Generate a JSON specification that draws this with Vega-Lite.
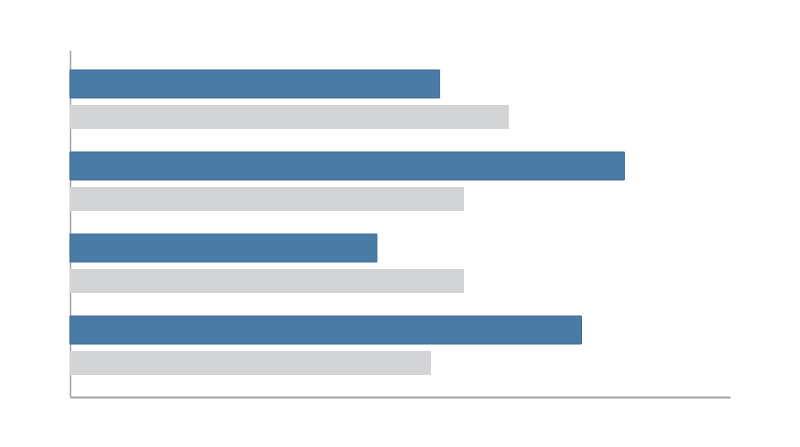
{
  "$schema": "https://vega.github.io/schema/vega-lite/v6.json",
  "width": 660,
  "height": 347,
  "autosize": "none",
  "padding": {"left": 70, "top": 50, "right": 70, "bottom": 50},
  "background": "white",
  "config": {
    "view": {"stroke": null},
    "axis": {"labels": false, "ticks": false, "grid": false, "title": null, "domainColor": "#a3a3a3", "zindex": 1}
  },
  "data": {
    "values": [
      {"group": "A", "series": "s1", "value": 56},
      {"group": "A", "series": "s2", "value": 66.5},
      {"group": "B", "series": "s1", "value": 84},
      {"group": "B", "series": "s2", "value": 59.7},
      {"group": "C", "series": "s1", "value": 46.5},
      {"group": "C", "series": "s2", "value": 59.7},
      {"group": "D", "series": "s1", "value": 77.5},
      {"group": "D", "series": "s2", "value": 54.7}
    ]
  },
  "encoding": {
    "y": {
      "field": "group",
      "type": "nominal",
      "scale": {"paddingInner": 0.195, "paddingOuter": 0.213},
      "axis": {"domainWidth": 1.5}
    },
    "yOffset": {
      "field": "series",
      "type": "nominal",
      "scale": {"domain": ["s1", "s2"], "paddingInner": 0, "paddingOuter": 0}
    },
    "x": {
      "field": "value",
      "type": "quantitative",
      "scale": {"domain": [0, 100], "nice": false, "zero": true},
      "axis": {"domainWidth": 2}
    }
  },
  "layer": [
    {
      "transform": [{"filter": "datum.series === 's1'"}],
      "mark": {"type": "bar", "size": 28, "color": "#4a7aa6", "stroke": "#3f6b96", "strokeWidth": 1}
    },
    {
      "transform": [{"filter": "datum.series === 's2'"}],
      "mark": {"type": "bar", "size": 24, "color": "#d3d4d5"}
    }
  ]
}
